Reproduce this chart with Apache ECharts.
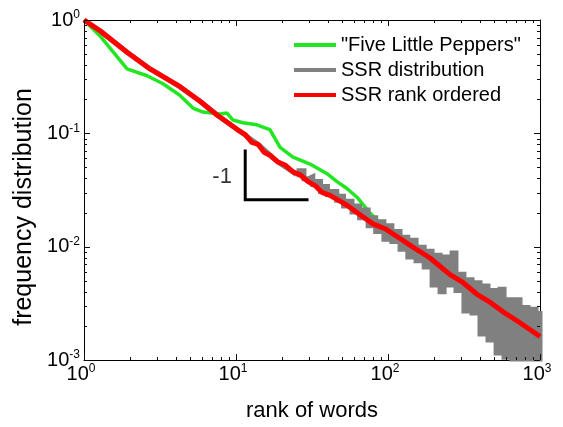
<!DOCTYPE html>
<html>
<head>
<meta charset="utf-8">
<script src="https://cdn.jsdelivr.net/npm/echarts@6/dist/echarts.min.js"></script>
<style>
html,body{margin:0;padding:0;background:#fff;}
#chart{width:563px;height:427px;}
</style>
</head>
<body>
<div id="chart"></div>
<script>
// ---- tick values ----
const xMajorTicks = [1, 10, 100, 1000];
const yMajorTicks = [0.001, 0.01, 0.1, 1];
const xMinorTicks = [2,3,4,5,6,7,8,9,20,30,40,50,60,70,80,90,200,300,400,500,600,700,800,900];
const yMinorTicks = [0.002,0.003,0.004,0.005,0.006,0.007,0.008,0.009,
                     0.02,0.03,0.04,0.05,0.06,0.07,0.08,0.09,
                     0.2,0.3,0.4,0.5,0.6,0.7,0.8,0.9];

// ---- series names ----
const seriesNames = ['"Five Little Peppers"', 'SSR distribution', 'SSR rank ordered'];

// ---- "Five Little Peppers" ----
const greenRanks  = [1, 1.27, 1.92, 2.6, 3.31, 4.28, 5.21, 6.06, 7.85, 8.73, 9.55, 11.1, 13.7, 16.7, 19.5, 23.7, 30.7, 39.7, 46.2, 53.7, 62.5, 76.2, 88.5, 120, 162, 298, 491, 635];
const greenValues = [1, 0.727, 0.370, 0.322, 0.274, 0.216, 0.167, 0.154, 0.148, 0.151, 0.131, 0.124, 0.119, 0.108, 0.0752, 0.0616, 0.0536, 0.044, 0.0375, 0.0326, 0.0273, 0.0198, 0.0162, 0.01256, 0.0099, 0.0047, 0.0019, 0.00155];

// ---- SSR distribution: smooth head (hidden under red) ----
const grayHeadRanks  = [1, 1.274, 1.92, 2.72, 4.28, 5.8, 7.5, 10.2, 14.0, 18.9, 23.7, 25];
const grayHeadValues = [1, 0.803, 0.519, 0.370, 0.258, 0.1917, 0.145, 0.108, 0.0798, 0.0558, 0.0457, 0.0431];
// ---- SSR distribution: noisy tail ----
const grayRanks  = [25, 26, 28, 30, 32, 34, 36, 38, 40, 43, 46, 48, 51, 55, 58, 62, 65, 70, 74, 78, 83, 89, 94, 100,
  106, 113, 120, 127, 135, 144, 153, 162, 173, 183, 195, 207, 220, 234, 248, 264, 280, 298, 316, 336,
  357, 379, 403, 428, 455, 483, 514, 546, 580, 616, 654, 695, 739, 785, 834, 886, 941, 1000];
const grayValues = [0.0431, 0.0467, 0.0398, 0.0414, 0.0353, 0.0375, 0.0307, 0.0339, 0.0289, 0.0307, 0.0257, 0.0278, 0.0228, 0.0252, 0.0202, 0.0228, 0.0180, 0.0211, 0.0153, 0.0180, 0.0136, 0.0166, 0.0116, 0.0153,
  0.0111, 0.0136, 0.0095, 0.0121, 0.0081, 0.0114, 0.0075, 0.0099, 0.0066, 0.0091, 0.0046, 0.0084, 0.0040, 0.0081, 0.0046, 0.0088, 0.0041, 0.0057, 0.0027, 0.0051,
  0.0026, 0.0048, 0.0017, 0.0045, 0.0015, 0.0041, 0.00115, 0.0042, 0.00106, 0.0034, 0.00102, 0.0034, 0.00102, 0.0029, 0.00102, 0.0028, 0.00102, 0.0027];

// ---- SSR rank ordered ----
const redRanks  = [1, 1.274, 1.92, 2.72, 4.28, 5.8, 7.5, 10.2, 11.5, 12.7, 14.0, 15.3, 16.7, 18.9, 21.0, 23.7, 26.4, 29.8, 33.1, 36.8, 41.5, 48.3, 53.7, 65.4, 79.6, 95.5, 120, 140, 189, 256, 311, 385, 469, 571, 706, 1000];
const redValues = [1, 0.803, 0.519, 0.370, 0.258, 0.1917, 0.145, 0.108, 0.0975, 0.0831, 0.0798, 0.0681, 0.0641, 0.0558, 0.0526, 0.0457, 0.0431, 0.0375, 0.0346, 0.0301, 0.0284, 0.0252, 0.0232, 0.0191, 0.0159, 0.0144, 0.0118, 0.01028, 0.00794, 0.00566, 0.00483, 0.0038, 0.00324, 0.00266, 0.00222, 0.00161];

// ---- slope -1 marker ----
const slopeRanks  = [11.5, 11.5, 30];
const slopeValues = [0.072, 0.026, 0.026];
const slopeText = '-1';
const slopeTextRank = 8.1;
const slopeTextValue = 0.0414;

const zip = (a, b) => a.map((v, i) => [v, b[i]]);
const FONT = 'Liberation Sans, Arial, sans-serif';
const X_MIN = xMajorTicks[0], X_MAX = xMajorTicks[xMajorTicks.length - 1];
const Y_MIN = yMajorTicks[0], Y_MAX = yMajorTicks[yMajorTicks.length - 1];

const labelFormatter = v => '{b|10}{s|' + Math.round(Math.log10(v)) + '}';
const labelRich = {
  b: { fontSize: 20, fontFamily: FONT, color: '#000', lineHeight: 22 },
  s: { fontSize: 12, fontFamily: FONT, color: '#000', lineHeight: 12, verticalAlign: 'top' }
};

function logAxis(base) {
  return Object.assign({
    type: 'log', logBase: 10,
    splitLine: { show: false },
    axisLine: { show: true, onZero: false, lineStyle: { color: '#000', width: 1 } },
    axisLabel: { show: false },
    axisTick: { show: false }
  }, base);
}

// tick marks drawn inside the box on all four sides, through the axis scales
function tickSeries(values, dim, len) {
  return {
    type: 'custom', silent: true, z: 10, clip: false,
    data: values.map(v => dim === 'x' ? [v, Y_MAX] : [X_MIN, v]),
    renderItem: function (params, api) {
      if (dim === 'x') {
        const v = api.value(0);
        const b = api.coord([v, Y_MIN]), t = api.coord([v, Y_MAX]);
        const x = Math.round(b[0]) + 0.5;
        return { type: 'group', children: [
          { type: 'line', shape: { x1: x, y1: b[1], x2: x, y2: b[1] - len }, style: { stroke: '#111', lineWidth: 1 } },
          { type: 'line', shape: { x1: x, y1: t[1], x2: x, y2: t[1] + len }, style: { stroke: '#111', lineWidth: 1 } }
        ] };
      } else {
        const v = api.value(1);
        const l = api.coord([X_MIN, v]), r = api.coord([X_MAX, v]);
        const y = Math.round(l[1]) + 0.5;
        return { type: 'group', children: [
          { type: 'line', shape: { x1: l[0], y1: y, x2: l[0] + len, y2: y }, style: { stroke: '#111', lineWidth: 1 } },
          { type: 'line', shape: { x1: r[0], y1: y, x2: r[0] - len, y2: y }, style: { stroke: '#111', lineWidth: 1 } }
        ] };
      }
    }
  };
}

const chart = echarts.init(document.getElementById('chart'), null, { renderer: 'canvas' });

chart.setOption({
  animation: false,
  backgroundColor: '#fff',
  grid: { left: 84, top: 20, width: 456, height: 347, containLabel: false },
  legend: {
    data: seriesNames,
    orient: 'vertical',
    left: 292, top: 35, padding: 0,
    itemWidth: 42, itemHeight: 14, itemGap: 5,
    selectedMode: false,
    itemStyle: { opacity: 0 },
    lineStyle: { width: 4 },
    textStyle: { fontSize: 20, fontFamily: FONT, color: '#000', lineHeight: 20 }
  },
  xAxis: [
    logAxis({
      min: X_MIN, max: X_MAX, position: 'bottom',
      axisLabel: { show: true, customValues: xMajorTicks, margin: 3, formatter: labelFormatter, rich: labelRich, padding: [0, 6, 0, 0] },
      name: 'rank of words', nameLocation: 'middle', nameGap: 40,
      nameTextStyle: { fontSize: 22, fontFamily: FONT, color: '#000' }
    }),
    logAxis({ min: X_MIN, max: X_MAX, position: 'top' })
  ],
  yAxis: [
    logAxis({
      min: Y_MIN, max: Y_MAX, position: 'left',
      axisLabel: { show: true, customValues: yMajorTicks, margin: 4, formatter: labelFormatter, rich: labelRich },
      name: 'frequency distribution', nameLocation: 'middle', nameGap: 41, nameRotate: 90,
      nameTextStyle: { fontSize: 25, fontFamily: FONT, color: '#000', padding: [0, 34, 0, 0] }
    }),
    logAxis({ min: Y_MIN, max: Y_MAX, position: 'right' })
  ],
  series: [
    {
      name: seriesNames[0], type: 'line', data: zip(greenRanks, greenValues),
      symbol: 'none', color: '#22e622', clip: true,
      lineStyle: { color: '#22e622', width: 3.5 }, z: 2
    },
    {
      name: seriesNames[1] + ' (head)', type: 'line', data: zip(grayHeadRanks, grayHeadValues),
      symbol: 'none', color: '#808080', clip: true,
      lineStyle: { color: '#808080', width: 5 }, z: 3
    },
    {
      name: seriesNames[1], type: 'line', data: zip(grayRanks, grayValues),
      symbol: 'none', step: 'end', color: '#808080', clip: true,
      lineStyle: { color: '#808080', width: 5, join: 'miter' }, z: 3
    },
    {
      name: seriesNames[2], type: 'line', data: zip(redRanks, redValues),
      symbol: 'none', color: '#ff0000', clip: true,
      lineStyle: { color: '#ff0000', width: 5 }, z: 4
    },
    {
      name: 'slope', type: 'line', data: zip(slopeRanks, slopeValues),
      symbol: 'none', color: '#000', lineStyle: { color: '#000', width: 3, join: 'miter', cap: 'butt' }, z: 5,
      silent: true
    },
    {
      name: 'slopeLabel', type: 'scatter', data: [[slopeTextRank, slopeTextValue]],
      symbolSize: 0, silent: true, z: 5,
      label: { show: true, position: 'inside', formatter: slopeText, fontSize: 22, fontFamily: FONT, color: '#000' }
    },
    tickSeries(xMajorTicks, 'x', 6),
    tickSeries(xMinorTicks, 'x', 3),
    tickSeries(yMajorTicks, 'y', 6),
    tickSeries(yMinorTicks, 'y', 3)
  ]
});
</script>
</body>
</html>
